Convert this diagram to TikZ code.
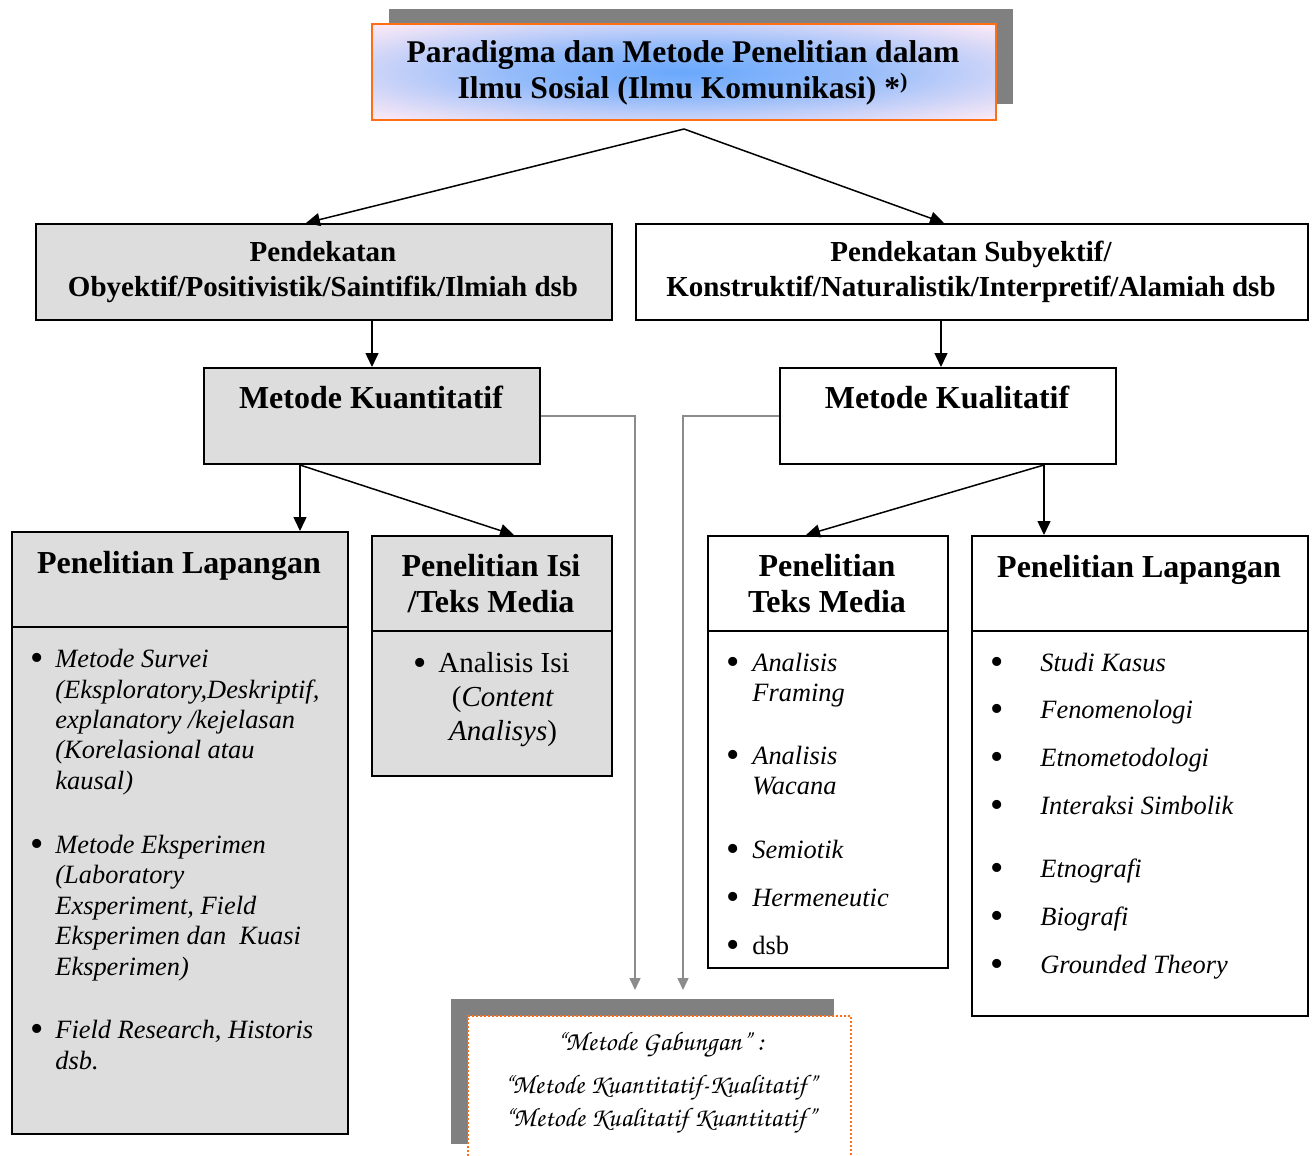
\documentclass[tikz,border=0pt]{standalone}
\usepackage[T1]{fontenc}
\usepackage{fontspec}
\setmainfont{Liberation Serif}
\usetikzlibrary{arrows.meta}

\definecolor{boxgray}{RGB}{221,221,221}
\definecolor{shadowgray}{RGB}{128,128,128}
\definecolor{linkgray}{RGB}{140,140,140}
\definecolor{frameorange}{RGB}{255,110,20}
\definecolor{skyblue}{RGB}{105,168,252}
\definecolor{palepink}{RGB}{250,232,246}

\pgfdeclareradialshading{topglow}{\pgfpoint{0bp}{0bp}}{color(0bp)=(skyblue); color(14bp)=(skyblue!70!palepink); color(34bp)=(palepink); color(50bp)=(palepink)}

\newcommand{\chancery}{\fontencoding{T1}\fontfamily{pzc}\fontseries{mb}\fontshape{it}\selectfont}

\begin{document}
\begin{tikzpicture}[x=0.5pt, y=-0.5pt,
    box/.style={draw, line width=1pt, anchor=north west, inner sep=0pt, minimum height=48pt},
    txt/.style={inner sep=0pt, text height=1.5ex, text depth=0pt, yshift=-2pt},
    head/.style={txt, font=\fontsize{16}{18}\selectfont\bfseries},
    pend/.style={txt, font=\fontsize{14.5}{17}\selectfont\bfseries},
    item/.style={txt, anchor=west, font=\fontsize{13.2}{15}\selectfont\itshape},
    dot/.style={inner sep=0pt, text height=0.68em, text depth=0pt, yshift=-3.5pt, font=\fontsize{19}{19}\selectfont},
    body/.style={txt, font=\fontsize{14.5}{17}\selectfont},
    script/.style={txt, font=\chancery\fontsize{13.4}{15}\selectfont},
    link/.style={line width=0.75pt, -{Triangle[length=7pt, width=6.5pt]}},
    feed/.style={line width=0.8pt, draw=linkgray, -{Triangle[length=6pt, width=5.5pt]}}]
    \path[use as bounding box, clip] (0,0) rectangle (1314,1156);

    %% Boxes
    \node[box, draw=none, fill=shadowgray, minimum width=312pt, minimum height=47.5pt] (tshadow) at (388,8) {};
    \node[box, draw=frameorange, shading=topglow, minimum width=312pt] (top) at (371,23) {};
    \node[box, fill=boxgray, minimum width=288pt] (pendL) at (35,223) {};
    \node[box, fill=white, minimum width=336pt] (pendR) at (635,223) {};
    \node[box, fill=boxgray, minimum width=168pt] (kuan) at (203,367) {};
    \node[box, fill=white, minimum width=168pt] (kual) at (779,367) {};
    \node[box, fill=boxgray, minimum width=168pt, minimum height=301pt] (lapL) at (11,531) {};
    \node[box, fill=boxgray, minimum width=120pt, minimum height=120pt] (isi) at (371,535) {};
    \node[box, fill=white, minimum width=120pt, minimum height=216pt] (teks) at (707,535) {};
    \node[box, fill=white, minimum width=168pt, minimum height=240pt] (lapR) at (971,535) {};
    \node[box, draw=none, fill=shadowgray, minimum width=191.5pt, minimum height=72.5pt] (gshadow) at (450,998) {};
    \node[box, draw=frameorange, densely dotted, fill=white, minimum width=191.5pt, minimum height=80pt] (gab) at (467,1015) {};

    % Dividers
    \foreach \b in {lapL, isi, teks, lapR}
        \draw[line width=1pt] ([yshift=-48pt]\b.north west) -- ([yshift=-48pt]\b.north east);

    %% Arrows
    \coordinate (tfork) at ([yshift=-4pt]top.south);
    \coordinate (kualin) at ([xshift=-3.5pt]kual.north);
    \coordinate (kfork) at ([xshift=-36pt]kuan.south);
    \coordinate (lfork) at ([xshift=48pt]kual.south);
    \coordinate (gin1) at (635,990);
    \coordinate (gin2) at (683,990);

    \draw[link] (tfork) -- ([xshift=-9pt]pendL.north);
    \draw[link] (tfork) -- ([xshift=-14pt]pendR.north);
    \draw[link] (kuan.north |- pendL.south) -- (kuan.north);
    \draw[link] (kualin |- pendR.south) -- (kualin);
    \draw[link] (kfork) -- (kfork |- lapL.north);
    \draw[link] (kfork) -- ([xshift=11pt]isi.north);
    \draw[link] (lfork) -- ([xshift=-11pt]teks.north);
    \draw[link] (lfork) -- (lfork |- lapR.north);
    \draw[feed] (kuan.east) -| (gin1);
    \draw[feed] (kual.west) -| (gin2);

    %% Labels
    \node[txt, font=\fontsize{15.8}{18}\selectfont\bfseries] (title1) at (683,52) {Paradigma dan Metode Penelitian dalam};
    \node[txt, font=\fontsize{15.8}{18}\selectfont\bfseries] (title2) at (683,88) {Ilmu Sosial (Ilmu Komunikasi) *\textsuperscript{)}};
    \node[pend] (pendL1) at (323,251) {Pendekatan};
    \node[pend] (pendL2) at (323,286) {Obyektif/Positivistik/Saintifik/Ilmiah dsb};
    \node[pend] (pendR1) at (971,251) {Pendekatan Subyektif/};
    \node[pend] (pendR2) at (971,286) {Konstruktif/Naturalistik/Interpretif/Alamiah dsb};
    \node[head] (kuan1) at (371,398) {Metode Kuantitatif};
    \node[head] (kual1) at (947,398) {Metode Kualitatif};
    \node[head] (lapL1) at (179,563) {Penelitian Lapangan};
    \node[head] (isi1) at (491,566) {Penelitian Isi};
    \node[head] (isi2) at (491,602) {/Teks Media};
    \node[head] (teks1) at (827,566) {Penelitian};
    \node[head] (teks2) at (827,602) {Teks Media};
    \node[head] (lapR1) at (1139,567) {Penelitian Lapangan};

    %% Lists
    % Penelitian Lapangan (kuantitatif)
    \foreach \y/\t [count=\i] in {657/Metode Survei, 688/{(Eksploratory,Deskriptif,}, 718/{explanatory /kejelasan},
            748/{(Korelasional atau}, 779/{kausal)}, 843/Metode Eksperimen, 873/{(Laboratory},
            904/{Exsperiment, Field}, 934/{Eksperimen dan~ Kuasi}, 965/{Eksperimen)},
            1028/{Field Research, Historis}, 1059/dsb.}
        \node[item] (obj-\i) at (55,\y) {\t};
    \foreach \y [count=\i] in {657, 843, 1028}
        \node[dot] (objdot-\i) at (37,\y) {\textbullet};

    % Penelitian Isi
    \node[dot] (isidot) at (420,662) {\textbullet};
    \node[body, anchor=west] (isiA) at (438,662) {Analisis Isi};
    \node[body] (isiB) at (503,696) {(\textit{Content}};
    \node[body] (isiC) at (503,730) {\textit{Analisys})};

    % Penelitian Teks Media
    \foreach \y/\t [count=\i] in {661/Analisis, 691/Framing, 754/Analisis, 784/Wacana,
            848/Semiotik, 896/Hermeneutic, 944/{\upshape dsb}}
        \node[item] (teks-\i) at (752,\y) {\t};
    \foreach \y [count=\i] in {661, 754, 848, 896, 944}
        \node[dot] (teksdot-\i) at (733,\y) {\textbullet};

    % Penelitian Lapangan (kualitatif)
    \foreach \y/\t [count=\i] in {661/Studi Kasus, 708/Fenomenologi, 756/Etnometodologi,
            804/Interaksi Simbolik, 867/Etnografi, 915/Biografi, 963/Grounded Theory}
    {
        \node[item] (sub-\i) at (1040,\y) {\t};
        \node[dot] (subdot-\i) at (997,\y) {\textbullet};
    }

    % Metode Gabungan
    \node[script] (gab1) at (660,1040) {``Metode Gabungan'' :};
    \node[script] (gab2) at (660,1083) {``Metode Kuantitatif-Kualitatif''};
    \node[script] (gab3) at (660,1116) {``Metode Kualitatif Kuantitatif''};
\end{tikzpicture}
\end{document}
